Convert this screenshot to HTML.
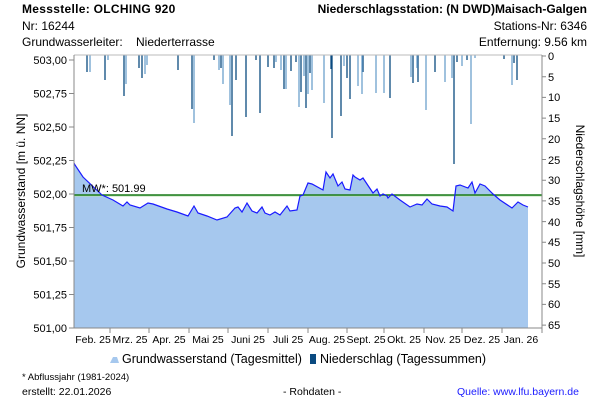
<!DOCTYPE html>
<html><head><meta charset="utf-8"><style>
html,body{margin:0;padding:0;background:#fff;}
svg{display:block;font-family:"Liberation Sans",sans-serif;}
</style></head><body>
<svg width="600" height="400" viewBox="0 0 600 400" xmlns="http://www.w3.org/2000/svg">
<rect width="600" height="400" fill="#fff"/>
<!-- header -->
<text x="22" y="13" font-size="12" font-weight="bold" letter-spacing="0.3">Messstelle: OLCHING 920</text>
<text x="22" y="30" font-size="12">Nr: 16244</text>
<text x="22" y="46" font-size="12">Grundwasserleiter:</text>
<text x="136" y="46" font-size="12">Niederterrasse</text>
<text x="587" y="13" font-size="12" font-weight="bold" text-anchor="end">Niederschlagsstation: (N DWD)Maisach-Galgen</text>
<text x="587" y="30" font-size="12" text-anchor="end">Stations-Nr: 6346</text>
<text x="587" y="46" font-size="12" text-anchor="end">Entfernung: 9.56 km</text>

<!-- groundwater area -->
<polygon fill="#a6c8ee" points="74,328 74,163 75,165 83,177 102,195 113,200 123,206 127,202 130,205 140,208 148,203 153,204 167,209 177,212 188,216 194,206 198,213 207,216 217,220 227,217 235,208 238,207 242,212 247,203 252,211 257,213 262,207 265,213 270,215 275,212 280,215 287,206 290,211 297,210 300,196 303,195 308,183 312,184 323,190 326,172 330,178 333,174 338,186 342,182 345,189 350,190 353,175 355,177 360,180 363,178 367,184 373,193 377,189 380,196 383,194 387,196 388,198 392,194 400,200 410,207 417,204 422,205 427,199 432,204 440,206 447,207 453,211 456,186 460,185 468,188 472,182 475,193 480,184 485,186 493,194 500,200 512,208 515,205 518,202 523,205 528,207 528,328"/>
<line x1="74" y1="196" x2="542" y2="196" stroke="#b8e0b0" stroke-width="1"/>
<line x1="74" y1="195" x2="542" y2="195" stroke="#1a7a1a" stroke-width="1.6"/>
<polyline fill="none" stroke="#1a1aff" stroke-width="1.2" points="74,163 75,165 83,177 102,195 113,200 123,206 127,202 130,205 140,208 148,203 153,204 167,209 177,212 188,216 194,206 198,213 207,216 217,220 227,217 235,208 238,207 242,212 247,203 252,211 257,213 262,207 265,213 270,215 275,212 280,215 287,206 290,211 297,210 300,196 303,195 308,183 312,184 323,190 326,172 330,178 333,174 338,186 342,182 345,189 350,190 353,175 355,177 360,180 363,178 367,184 373,193 377,189 380,196 383,194 387,196 388,198 392,194 400,200 410,207 417,204 422,205 427,199 432,204 440,206 447,207 453,211 456,186 460,185 468,188 472,182 475,193 480,184 485,186 493,194 500,200 512,208 515,205 518,202 523,205 528,207"/>
<text x="82" y="192" font-size="11">MW*: 501.99</text>

<!-- precipitation bars -->
<g stroke-width="1.3">
<g stroke="#0a4a80">
<line x1="87" y1="55" x2="87" y2="72"/><line x1="105" y1="55" x2="105" y2="80"/><line x1="124" y1="55" x2="124" y2="96"/><line x1="139" y1="55" x2="139" y2="68"/><line x1="142" y1="55" x2="142" y2="78"/><line x1="178" y1="55" x2="178" y2="70"/><line x1="192" y1="55" x2="192" y2="109"/><line x1="214" y1="55" x2="214" y2="60"/><line x1="221" y1="55" x2="221" y2="68"/><line x1="232" y1="55" x2="232" y2="136"/><line x1="236" y1="55" x2="236" y2="80"/><line x1="246" y1="55" x2="246" y2="117"/><line x1="256" y1="55" x2="256" y2="60"/><line x1="260" y1="55" x2="260" y2="113"/><line x1="268" y1="55" x2="268" y2="67"/><line x1="274" y1="55" x2="274" y2="68"/><line x1="284" y1="55" x2="284" y2="89"/><line x1="291" y1="55" x2="291" y2="71"/><line x1="296" y1="55" x2="296" y2="62"/><line x1="301" y1="55" x2="301" y2="92"/><line x1="306" y1="55" x2="306" y2="108"/><line x1="310" y1="55" x2="310" y2="73"/><line x1="331" y1="55" x2="331" y2="69"/><line x1="332" y1="55" x2="332" y2="138"/><line x1="341" y1="55" x2="341" y2="116"/><line x1="347" y1="55" x2="347" y2="78"/><line x1="350" y1="55" x2="350" y2="99"/><line x1="363" y1="55" x2="363" y2="72"/><line x1="390" y1="55" x2="390" y2="98"/><line x1="413" y1="55" x2="413" y2="83"/><line x1="418" y1="55" x2="418" y2="82"/><line x1="435" y1="55" x2="435" y2="72"/><line x1="454" y1="55" x2="454" y2="164"/><line x1="457" y1="55" x2="457" y2="62"/><line x1="467" y1="55" x2="467" y2="60"/><line x1="504" y1="55" x2="504" y2="59"/><line x1="514" y1="55" x2="514" y2="63"/><line x1="517" y1="55" x2="517" y2="80"/>
</g>
<g stroke="#6ca0cc">
<line x1="90" y1="55" x2="90" y2="72"/><line x1="108" y1="55" x2="108" y2="60"/><line x1="126" y1="55" x2="126" y2="84"/><line x1="145" y1="55" x2="145" y2="74"/><line x1="147" y1="55" x2="147" y2="65"/><line x1="194" y1="55" x2="194" y2="123"/><line x1="219" y1="55" x2="219" y2="70"/><line x1="223" y1="55" x2="223" y2="84"/><line x1="230" y1="55" x2="230" y2="105"/><line x1="276" y1="55" x2="276" y2="62"/><line x1="281" y1="55" x2="281" y2="70"/><line x1="286" y1="55" x2="286" y2="89"/><line x1="299" y1="55" x2="299" y2="107"/><line x1="304" y1="55" x2="304" y2="76"/><line x1="308" y1="55" x2="308" y2="94"/><line x1="312" y1="55" x2="312" y2="90"/><line x1="324" y1="55" x2="324" y2="103"/><line x1="344" y1="55" x2="344" y2="66"/><line x1="358" y1="55" x2="358" y2="86"/><line x1="362" y1="55" x2="362" y2="94"/><line x1="376" y1="55" x2="376" y2="93"/><line x1="384" y1="55" x2="384" y2="93"/><line x1="411" y1="55" x2="411" y2="77"/><line x1="417" y1="55" x2="417" y2="68"/><line x1="426" y1="55" x2="426" y2="110"/><line x1="445" y1="55" x2="445" y2="82"/><line x1="452" y1="55" x2="452" y2="78"/><line x1="462" y1="55" x2="462" y2="66"/><line x1="471" y1="55" x2="471" y2="124"/><line x1="475" y1="55" x2="475" y2="58"/><line x1="512" y1="55" x2="512" y2="85"/>
</g>
</g>

<!-- axes -->
<g stroke="#888" stroke-width="1" fill="none">
<line x1="74" y1="55" x2="542" y2="55" stroke="#bbb"/>
<line x1="74" y1="55" x2="74" y2="328"/>
<line x1="542" y1="55" x2="542" y2="328"/>
<line x1="74" y1="328" x2="542" y2="328"/>
<path d="M69 60H74M69 93.5H74M69 127H74M69 160.5H74M69 194H74M69 227.5H74M69 261H74M69 294.5H74M69 328H74"/>
<path d="M542 56H546M542 76.7H546M542 97.4H546M542 118.1H546M542 138.8H546M542 159.5H546M542 180.2H546M542 200.9H546M542 221.6H546M542 242.3H546M542 263H546M542 283.7H546M542 304.4H546M542 325.1H546"/>
<path d="M110 328V333M149 328V333M189 328V333M228 328V333M268 328V333M308 328V333M347 328V333M384 328V333M424 328V333M462 328V333M502 328V333M542 328V333"/>
</g>
<g font-size="11" text-anchor="end">
<text x="67" y="64">503,00</text><text x="67" y="97.5">502,75</text><text x="67" y="131">502,50</text><text x="67" y="164.5">502,25</text><text x="67" y="198">502,00</text><text x="67" y="231.5">501,75</text><text x="67" y="265">501,50</text><text x="67" y="298.5">501,25</text><text x="67" y="332">501,00</text>
</g>
<g font-size="11">
<text x="548" y="60">0</text><text x="548" y="81">5</text><text x="548" y="101">10</text><text x="548" y="122">15</text><text x="548" y="143">20</text><text x="548" y="164">25</text><text x="548" y="184">30</text><text x="548" y="205">35</text><text x="548" y="226">40</text><text x="548" y="246">45</text><text x="548" y="267">50</text><text x="548" y="288">55</text><text x="548" y="308">60</text><text x="548" y="329">65</text>
</g>
<g font-size="10.5" text-anchor="middle">
<text x="93" y="343">Feb. 25</text><text x="130" y="343">Mrz. 25</text><text x="169" y="343">Apr. 25</text><text x="208" y="343">Mai 25</text><text x="248" y="343">Juni 25</text><text x="288" y="343">Juli 25</text><text x="327" y="343">Aug. 25</text><text x="366" y="343">Sept. 25</text><text x="404" y="343">Okt. 25</text><text x="443" y="343">Nov. 25</text><text x="482" y="343">Dez. 25</text><text x="521" y="343">Jan. 26</text>
</g>
<text transform="translate(25,191) rotate(-90)" font-size="12" text-anchor="middle">Grundwasserstand [m ü. NN]</text>
<text transform="translate(576,191) rotate(90)" font-size="12" text-anchor="middle">Niederschlagshöhe [mm]</text>

<!-- legend -->
<path d="M110 363 L113 357 L117 357 L119 363 Z" fill="#a6c8ee"/>
<text x="122" y="363" font-size="12.5">Grundwasserstand (Tagesmittel)</text>
<rect x="310" y="354" width="6" height="10" fill="#0a4a80"/>
<text x="320" y="363" font-size="12.5">Niederschlag (Tagessummen)</text>

<!-- footer -->
<text x="22" y="380" font-size="9.5">* Abflussjahr (1981-2024)</text>
<text x="22" y="395" font-size="10.5">erstellt:  22.01.2026</text>
<text x="283" y="395" font-size="10.5">- Rohdaten -</text>
<text x="457" y="395" font-size="10.5" fill="#1a1aff">Quelle: www.lfu.bayern.de</text>
</svg>
</body></html>
